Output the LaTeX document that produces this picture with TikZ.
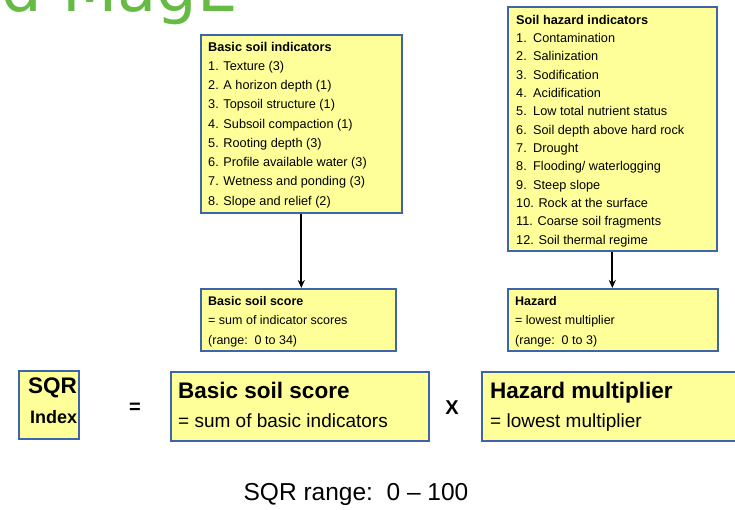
\documentclass[tikz,border=0pt]{standalone}
\usepackage{fontspec}
\setmainfont{Liberation Sans}
\newfontfamily\titlefont{DejaVu Sans}
\usetikzlibrary{arrows.meta}
\definecolor{boxfill}{RGB}{255,255,153}
\definecolor{boxline}{RGB}{64,100,170}
\definecolor{titlegreen}{RGB}{102,187,68}
\tikzset{
  box/.style={draw=boxline, fill=boxfill, line width=1.6pt, anchor=north west, inner sep=0pt},
  listtext/.style={anchor=north west, inner sep=0pt, align=left},
  bigtitle/.style={anchor=base west, inner sep=0pt, font=\fontsize{22.5}{26}\selectfont\bfseries},
  bigsub/.style={anchor=base west, inner sep=0pt, font=\fontsize{19}{22}\selectfont},
  conn/.style={-{Stealth[length=8pt,width=7pt]}, line width=1.8pt, black}
}
\newcommand{\nb}[1]{\makebox[17pt][l]{#1}}
\begin{document}
\begin{tikzpicture}[x=1pt,y=-1pt]
\useasboundingbox (0,0) rectangle (735,510);
\clip (0,0) rectangle (735,510);

% partial green title
\node[anchor=base west, inner sep=0pt, text=titlegreen, font=\titlefont\fontsize{64}{64}\selectfont] (ttl) at (1,12) {d MagE};

% basic indicators box
\node[box, minimum width=201pt, minimum height=178pt] (bi) at (200,34) {};
\node[listtext, font=\fontsize{12.7}{19.25}\selectfont] (bit) at (208,41.8) {\textbf{Basic soil indicators}\\
1. Texture (3)\\
2. A horizon depth (1)\\
3. Topsoil structure (1)\\
4. Subsoil compaction (1)\\
5. Rooting depth (3)\\
6. Profile available water (3)\\
7. Wetness and ponding (3)\\
8. Slope and relief (2)};

% hazard indicators box
\node[box, minimum width=209pt, minimum height=244pt] (hi) at (507,6) {};
\node[listtext, font=\fontsize{12.7}{18.33}\selectfont] (hit) at (516,14.8) {\textbf{Soil hazard indicators}\\
\nb{1.}Contamination\\
\nb{2.}Salinization\\
\nb{3.}Sodification\\
\nb{4.}Acidification\\
\nb{5.}Low total nutrient status\\
\nb{6.}Soil depth above hard rock\\
\nb{7.}Drought\\
\nb{8.}Flooding/ waterlogging\\
\nb{9.}Steep slope\\
10. Rock at the surface\\
11. Coarse soil fragments\\
12. Soil thermal regime};

% basic soil score box
\node[box, minimum width=195pt, minimum height=62pt] (bs) at (200,288) {};
\node[listtext, font=\fontsize{12.5}{19.5}\selectfont] (bst) at (208,296) {\textbf{Basic soil score}\\
= sum of indicator scores\\
(range:\ \ 0 to 34)};

% hazard box
\node[box, minimum width=210pt, minimum height=62pt] (hz) at (507,288) {};
\node[listtext, font=\fontsize{12.5}{19.5}\selectfont] (hzt) at (515,296) {\textbf{Hazard}\\
= lowest multiplier\\
(range:\ \ 0 to 3)};

% connectors
\draw[conn] (bi.south) -- (bi.south |- bs.north);
\draw[conn] (hi.south) -- (hi.south |- hz.north);

% bottom equation
\node[box, minimum width=60pt, minimum height=68pt] (sqr) at (18,370) {};
\node[bigtitle] (sqrt) at (28,393) {SQR};
\node[anchor=base west, inner sep=0pt, font=\fontsize{18}{20}\selectfont\bfseries] (idx) at (30,423.5) {Index};

\node[font=\fontsize{20}{22}\selectfont\bfseries, inner sep=0pt] (eq) at (135,408) {=};

\node[box, minimum width=258pt, minimum height=69pt] (bbs) at (170,371) {};
\node[bigtitle] (bbst) at (178,398) {Basic soil score};
\node[bigsub] (bbss) at (178,427) {= sum of basic indicators};

\node[font=\fontsize{20}{22}\selectfont\bfseries, inner sep=0pt] (times) at (452,408) {X};

\node[box, minimum width=259pt, minimum height=69pt] (hm) at (481,371) {};
\node[bigtitle] (hmt) at (490,398) {Hazard multiplier};
\node[bigsub] (hms) at (490,427) {= lowest multiplier};

\node[font=\fontsize{24.5}{28}\selectfont, inner sep=0pt] (range) at (356,494) {SQR range:\ \ 0 -- 100};
\end{tikzpicture}
\end{document}
